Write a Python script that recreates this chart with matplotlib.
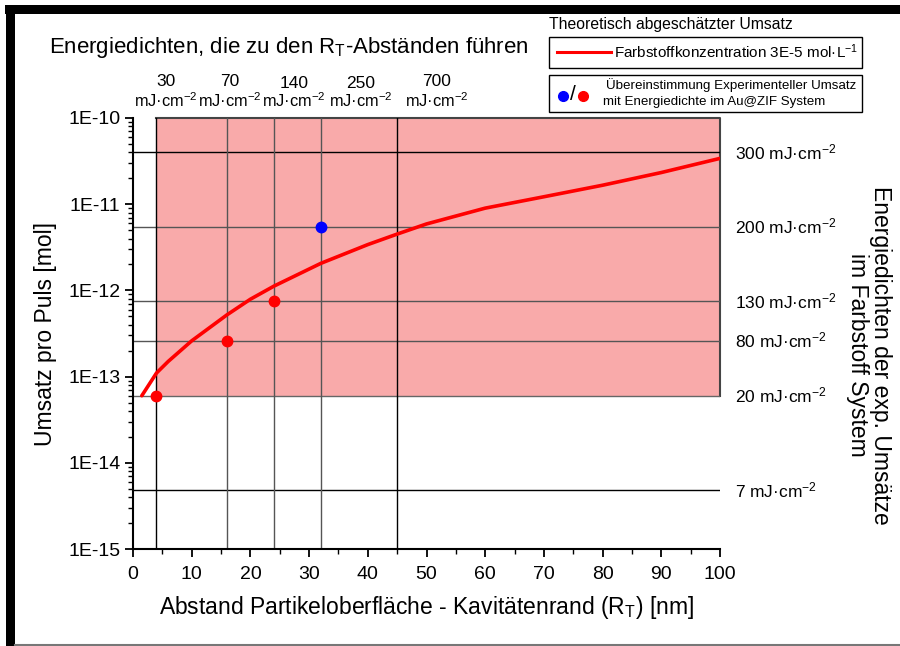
import matplotlib
matplotlib.use("Agg")
import matplotlib.pyplot as plt
from matplotlib.patches import Rectangle
from matplotlib.lines import Line2D
from matplotlib.ticker import LogLocator, NullFormatter, FixedLocator, MultipleLocator

plt.rcParams['font.family'] = ['Liberation Sans', 'DejaVu Sans']
plt.rcParams['mathtext.fontset'] = 'custom'
plt.rcParams['mathtext.rm'] = 'Liberation Sans'
plt.rcParams['mathtext.it'] = 'Liberation Sans:italic'
plt.rcParams['mathtext.default'] = 'regular'

# ---- data ----
x_curve = [1.5, 4, 6, 10, 16, 20, 24, 32, 40, 45, 50, 60, 70, 80, 90, 100]
y_curve = [6.0e-14, 1.1e-13, 1.5e-13, 2.6e-13, 5.2e-13, 7.9e-13, 1.12e-12, 2.06e-12,
           3.4e-12, 4.5e-12, 5.9e-12, 9.0e-12, 1.22e-11, 1.66e-11, 2.33e-11, 3.4e-11]

pt_x = [4, 16, 24, 32]
pt_y = [6.0e-14, 2.6e-13, 7.5e-13, 5.5e-12]
pt_colors = ['#ff0000', '#ff0000', '#ff0000', '#0000ff']

h_lines = [4.0e-11, 5.5e-12, 7.5e-13, 2.6e-13, 6.0e-14, 4.8e-15]
h_labels = ['300', '200', '130', '80', '20', '7']
h_colors = ['black', '#555555', '#555555', '#555555', '#666666', 'black']

v_lines = [4, 16, 24, 32, 45]
v_labels = ['30', '70', '140', '250', '700']
v_colors = ['black', '#555555', '#555555', '#555555', 'black']

y_ticks = [1e-15, 1e-14, 1e-13, 1e-12, 1e-11, 1e-10]
y_ticklabels = ['1E-15', '1E-14', '1E-13', '1E-12', '1E-11', '1E-10']

W, H = 900, 646
fig = plt.figure(figsize=(9, 6.46), dpi=100)
fx = lambda px: px / W
fy = lambda py: 1 - py / H

ax = fig.add_axes([fx(133), fy(549), fx(720) - fx(133), fy(118) - fy(549)])
ax.set_yscale('log')
ax.set_xlim(0, 100)
ax.set_ylim(1e-15, 1e-10)

# shaded region
ax.add_patch(Rectangle((4, 6.0e-14), 96, 1e-10 - 6.0e-14, facecolor='#f9aaaa',
                       edgecolor='none', zorder=1))
ax.plot([4, 100, 100], [1e-10, 1e-10, 6.0e-14], color='#444444', lw=1.5, zorder=2,
        clip_on=False)

for yv, c in zip(h_lines, h_colors):
    ax.plot([0, 100], [yv, yv], color=c, lw=1.0, zorder=2)
for xv, c in zip(v_lines, v_colors):
    ax.plot([xv, xv], [1e-15, 1e-10], color=c, lw=1.0, zorder=2)

ax.plot(x_curve, y_curve, color='#ff0000', lw=2.6, zorder=4, solid_capstyle='round')
for x, y, c in zip(pt_x, pt_y, pt_colors):
    ax.plot([x], [y], 'o', color=c, ms=7.5, zorder=5, clip_on=False)

for s in ['top', 'right']:
    ax.spines[s].set_visible(False)
for s in ['left', 'bottom']:
    ax.spines[s].set_linewidth(1.5)

ax.yaxis.set_major_locator(FixedLocator(y_ticks))
ax.set_yticklabels(y_ticklabels)
ax.yaxis.set_minor_locator(LogLocator(base=10, subs=range(2, 10), numticks=20))
ax.yaxis.set_minor_formatter(NullFormatter())
ax.xaxis.set_major_locator(MultipleLocator(10))
ax.xaxis.set_minor_locator(MultipleLocator(5))
ax.tick_params(which='major', direction='out', length=6, width=1.3, labelsize=14, pad=3)
ax.tick_params(axis='x', which='major', pad=6)
ax.tick_params(which='minor', direction='out', length=3.5, width=1.0)

ax.set_xlabel('Abstand Partikeloberfläche - Kavitätenrand (R$_T$) [nm]', fontsize=16.5, labelpad=8)
ax.set_ylabel('Umsatz pro Puls [mol]', fontsize=16.5, labelpad=8)

# right side labels
for yv, lab in zip(h_lines, h_labels):
    ax.text(1.025, yv, lab + ' mJ·cm$^{-2}$', transform=ax.get_yaxis_transform(),
            ha='left', va='center', fontsize=12.5)
fig.text(fx(869), fy(355), 'Energiedichten der exp. Umsätze\nim Farbstoff System',
         rotation=-90, ha='center', va='center', fontsize=16.5, linespacing=1.0)

# top labels
title_px = [(166, 82), (230, 82), (294, 84), (361, 84), (437, 82)]
for (px, py), lab in zip(title_px, v_labels):
    fig.text(fx(px), fy(py), lab, ha='center', va='center', fontsize=12.5)
    fig.text(fx(px), fy(101), 'mJ·cm$^{-2}$', ha='center', va='center', fontsize=11.8)

fig.text(fx(289), fy(47), 'Energiedichten, die zu den R$_T$-Abständen führen',
         ha='center', va='center', fontsize=16)

# legend boxes
fig.text(fx(549), fy(24), 'Theoretisch abgeschätzter Umsatz', ha='left', va='center', fontsize=11.3)
fig.add_artist(Rectangle((fx(549), fy(68)), fx(862) - fx(549), fy(37) - fy(68),
                         transform=fig.transFigure, facecolor='white', edgecolor='black', lw=1.0))
fig.add_artist(Line2D([fx(557), fx(611)], [fy(52), fy(52)], color='#ff0000', lw=2.2,
                      transform=fig.transFigure))
fig.text(fx(614), fy(52), 'Farbstoffkonzentration 3E-5 mol·L$^{-1}$', ha='left', va='center',
         fontsize=11)
fig.add_artist(Rectangle((fx(549), fy(112)), fx(862) - fx(549), fy(75) - fy(112),
                         transform=fig.transFigure, facecolor='white', edgecolor='black', lw=1.0))
fig.add_artist(Line2D([fx(563)], [fy(96)], marker='o', color='#0000ff', ms=7, transform=fig.transFigure))
fig.add_artist(Line2D([fx(583)], [fy(96)], marker='o', color='#ff0000', ms=7, transform=fig.transFigure))
fig.text(fx(573), fy(95), '/', ha='center', va='center', fontsize=15)
fig.text(fx(606), fy(85), 'Übereinstimmung Experimenteller Umsatz', ha='left', va='center', fontsize=9.6)
fig.text(fx(603), fy(102), 'mit Energiedichte im Au@ZIF System', ha='left', va='center', fontsize=9.6)

# window frame
fig.add_artist(Rectangle((fx(5), fy(14)), fx(900) - fx(5), fy(5) - fy(14),
                         transform=fig.transFigure, facecolor='black', edgecolor='none'))
fig.add_artist(Rectangle((fx(6), 0), fx(15) - fx(6), fy(5),
                         transform=fig.transFigure, facecolor='black', edgecolor='none'))
fig.add_artist(Line2D([fx(15), 1], [fy(644.5), fy(644.5)], color='#777777', lw=1.5,
                      transform=fig.transFigure))

fig.savefig('out.png', dpi=100)
